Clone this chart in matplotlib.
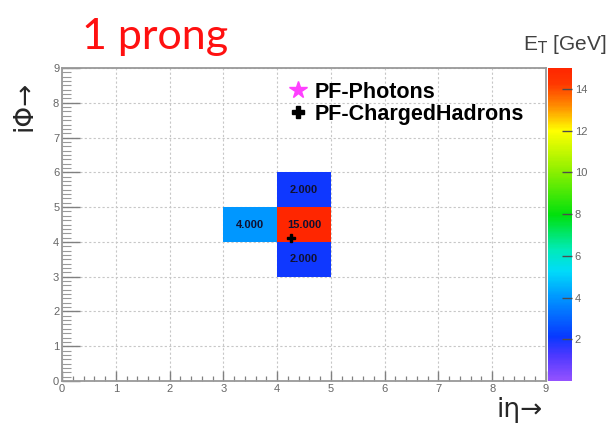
import numpy as np
import matplotlib
matplotlib.use("Agg")
import matplotlib.pyplot as plt
from matplotlib.colors import LinearSegmentedColormap
from matplotlib.lines import Line2D
from matplotlib.ticker import MultipleLocator

# ---- data ----
cell_ieta = [4, 4, 4, 3]          # lower-left bin edge in ieta
cell_iphi = [3, 4, 5, 4]          # lower-left bin edge in iphi
cell_et = [2.0, 15.0, 2.0, 4.0]   # E_T [GeV]
hadron_ieta = [4.25]
hadron_iphi = [4.12]
photon_ieta = []
photon_iphi = []
x_ticks = list(range(0, 10))
y_ticks = list(range(0, 10))
cbar_ticks = [2, 4, 6, 8, 10, 12, 14]

# ---- colormap (ROOT-like rainbow) ----
nodes = [
    (0.00, (0.58, 0.32, 1.00)),
    (0.08, (0.30, 0.22, 1.00)),
    (0.14, (0.03, 0.22, 1.00)),
    (0.27, (0.00, 0.60, 1.00)),
    (0.35, (0.00, 0.86, 0.98)),
    (0.42, (0.00, 0.92, 0.72)),
    (0.53, (0.00, 0.88, 0.05)),
    (0.67, (0.55, 0.94, 0.00)),
    (0.80, (1.00, 1.00, 0.00)),
    (0.88, (1.00, 0.55, 0.00)),
    (0.95, (1.00, 0.22, 0.00)),
    (1.00, (1.00, 0.15, 0.00)),
]
cmap = LinearSegmentedColormap.from_list("rootrainbow", nodes)

W, H = 611, 426
fig = plt.figure(figsize=(W / 100, H / 100), dpi=100)
ax = fig.add_axes([62 / W, 1 - 381 / H, (546 - 62) / W, (381 - 68) / H])
cax = fig.add_axes([548 / W, 1 - 381 / H, 24 / W, (381 - 68) / H])

grid = np.full((9, 9), np.nan)
for ie, ip, v in zip(cell_ieta, cell_iphi, cell_et):
    grid[ip, ie] = v
edges = np.arange(0, 10)
mesh = ax.pcolormesh(edges, edges, np.ma.masked_invalid(grid), cmap=cmap,
                     vmin=0, vmax=15, zorder=2)
for ie, ip, v in zip(cell_ieta, cell_iphi, cell_et):
    ax.text(ie + 0.5, ip + 0.5, f"{v:.3f}", ha="center", va="center",
            fontsize=8, fontweight="bold", color="#101030",
            family="Liberation Sans", zorder=4)

ax.plot(hadron_ieta, hadron_iphi, linestyle="none", marker="P",
        color="black", markersize=6, zorder=5)
if photon_ieta:
    ax.plot(photon_ieta, photon_iphi, linestyle="none", marker="*",
            color="#ff40ff", markersize=10, zorder=5)

ax.set_xlim(0, 9)
ax.set_ylim(0, 9)
ax.set_xticks(x_ticks)
ax.set_yticks(y_ticks)
ax.xaxis.set_minor_locator(MultipleLocator(0.2))
ax.yaxis.set_minor_locator(MultipleLocator(0.125))
ax.grid(True, which="major", linestyle=(0, (2, 2)), color="0.78",
        linewidth=0.8, zorder=1)
ax.set_axisbelow(True)
tickc = "0.5"
ax.tick_params(axis="x", which="major", direction="in", length=7, width=1,
               color=tickc, labelsize=8, labelcolor="0.4", pad=2)
ax.tick_params(axis="x", which="minor", direction="in", length=3.5, width=0.9,
               color=tickc)
ax.tick_params(axis="y", which="major", direction="in", length=13, width=1,
               color=tickc, labelsize=8, labelcolor="0.4", pad=2)
ax.tick_params(axis="y", which="minor", direction="in", length=6.5, width=0.8,
               color="0.6")
for lab in ax.get_xticklabels() + ax.get_yticklabels():
    lab.set_family("Liberation Sans")
for s in ax.spines.values():
    s.set_color("0.6")
    s.set_linewidth(1.3)

# colorbar
cb = fig.colorbar(mesh, cax=cax, ticks=cbar_ticks)
cb.outline.set_visible(False)
cax.tick_params(direction="in", length=7, width=1, color="0.3",
                labelsize=8, labelcolor="0.4", pad=2)
for lab in cax.get_yticklabels():
    lab.set_family("Liberation Sans")

# legend
handles = [
    Line2D([], [], linestyle="none", marker="*", color="#ff40ff", markersize=13),
    Line2D([], [], linestyle="none", marker="P", color="black", markersize=8),
]
leg = fig.legend(handles, ["PF-Photons", "PF-ChargedHadrons"],
                 loc="upper left", bbox_to_anchor=(276 / W, 1 - 71 / H),
                 frameon=False, handlelength=1.0, handletextpad=0.3,
                 labelspacing=0.05, borderpad=0,
                 prop={"family": "Liberation Sans", "weight": "bold", "size": 15.5})

# texts
fig.text(82 / W, 1 - 49 / H, "1 prong", color="#ff1010", fontsize=31,
         family="Lato", ha="left", va="baseline")
fig.text(606 / W, 1 - 50 / H, r"E$_{\mathrm{T}}$ [GeV]", color="0.25",
         fontsize=15, family="Liberation Sans", ha="right", va="baseline")
fig.text(520 / W, 1 - 410 / H, "iη→", color="0.15", fontsize=19,
         family="DejaVu Sans", ha="center", va="center")
fig.text(24 / W, 1 - 106 / H, "iΦ→", color="0.15", fontsize=19,
         family="DejaVu Sans", ha="center", va="center", rotation=90)

fig.savefig("out.png", dpi=100)
